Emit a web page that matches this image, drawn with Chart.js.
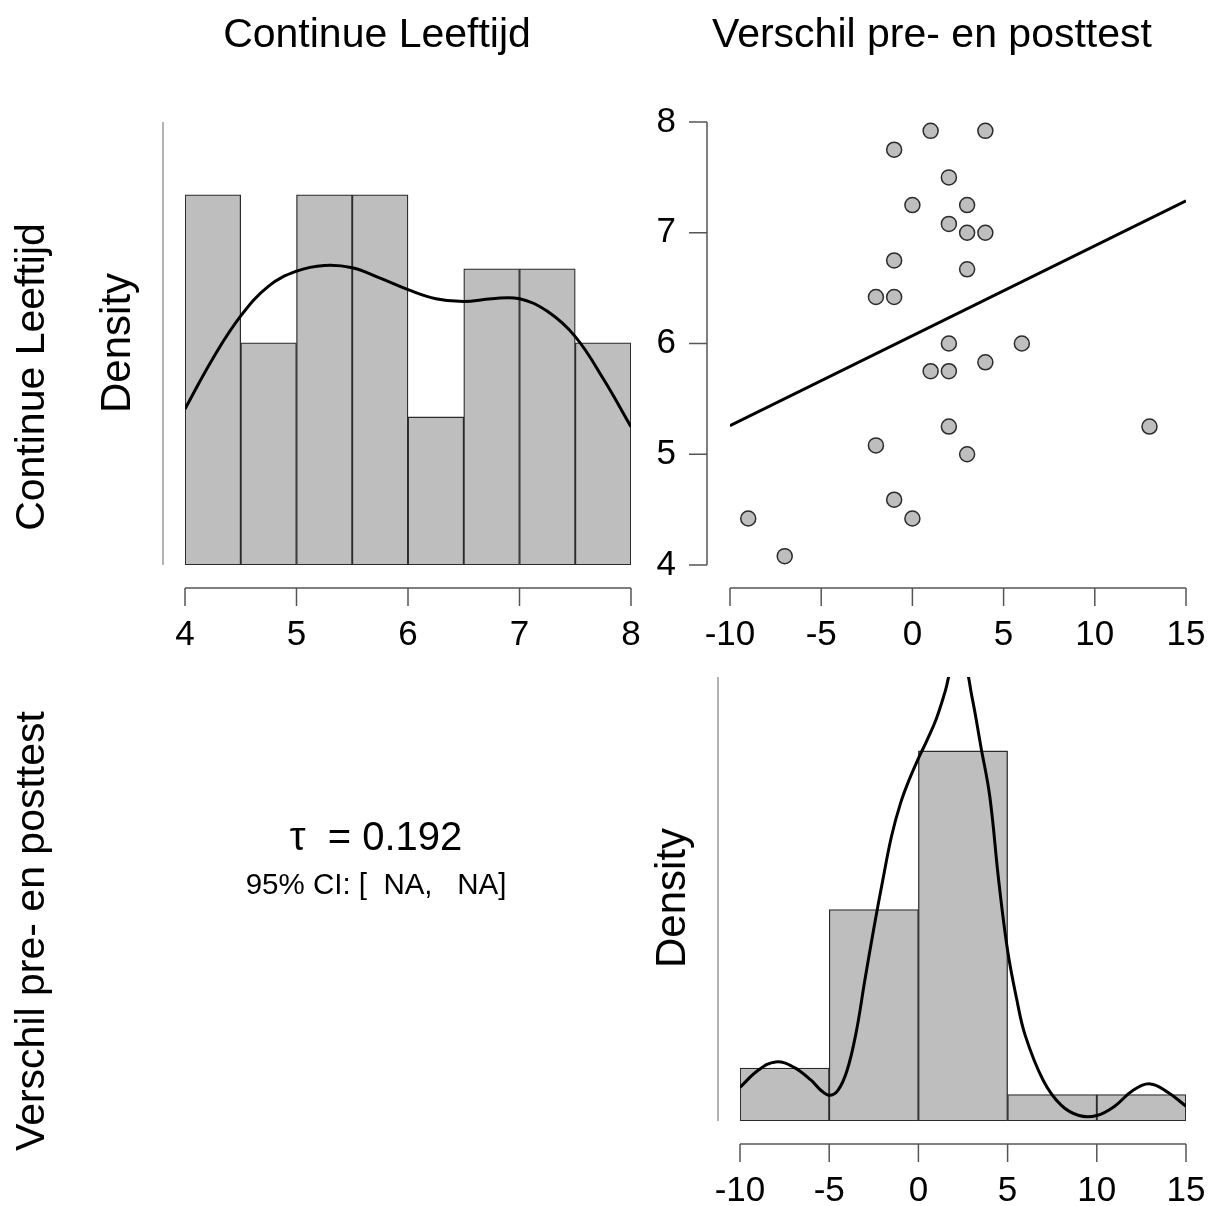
<!DOCTYPE html>
<html>
<head>
<meta charset="utf-8">
<title>Correlatieplot</title>
<script src="https://cdn.jsdelivr.net/npm/chart.js"></script>
<style>
  body { margin: 0; background: #fff; }
  #wrap { position: relative; width: 1212px; height: 1206px; overflow: hidden;
          font-family: "Liberation Sans", Arial, sans-serif; color: #000; background: #fff; }
  canvas { position: absolute; left: 0; top: 0; }
  .lbl { position: absolute; white-space: pre; line-height: 1; transform: translate(-50%, -50%); }
  .rot { transform: translate(-50%, -50%) rotate(-90deg); }
</style>
</head>
<body>
<div id="wrap">
  <canvas id="ageHist" width="1212" height="1206"></canvas>
  <canvas id="scatter" width="1212" height="1206"></canvas>
  <canvas id="diffHist" width="1212" height="1206"></canvas>

  <div class="lbl" style="left:377px;top:33px;font-size:41px">Continue Leeftijd</div>
  <div class="lbl" style="left:932px;top:33px;font-size:41px">Verschil pre- en posttest</div>
  <div class="lbl rot" style="left:30px;top:377px;font-size:41px">Continue Leeftijd</div>
  <div class="lbl rot" style="left:30px;top:931px;font-size:41px">Verschil pre- en posttest</div>
  <div class="lbl rot" style="left:116px;top:343px;font-size:42px">Density</div>
  <div class="lbl rot" style="left:671px;top:898px;font-size:42px">Density</div>
  <div class="lbl" id="tauLine" style="left:376px;top:836px;font-size:40px"></div>
  <div class="lbl" id="ciLine" style="left:376px;top:884px;font-size:29.5px"></div>
</div>
<script>
// Continue Leeftijd histogram (bin edges + counts), 31 cases
const ageBinEdges = [4, 4.5, 5, 5.5, 6, 6.5, 7, 7.5, 8];
const ageCounts = [5, 3, 5, 5, 2, 4, 4, 3];
// kernel density of age
const ageDensX = [4, 4.25, 4.5, 4.75, 5, 5.25, 5.5, 5.75, 6, 6.25, 6.5, 6.75, 7, 7.25, 7.5, 7.75, 8];
const ageDensY = [0.136, 0.180, 0.217, 0.243, 0.256, 0.261, 0.259, 0.250, 0.240, 0.232, 0.2295, 0.232, 0.2320, 0.221, 0.199, 0.1625, 0.1205];
const ageTicks = [4, 5, 6, 7, 8];
const ageDensMax = 0.386;

// Verschil pre- en posttest histogram, 26 cases
const diffBinEdges = [-10, -5, 0, 5, 10, 15];
const diffCounts = [2, 8, 14, 1, 1];
const diffDensX = [-10, -9, -8, -7, -6, -5.5, -5, -4.5, -4, -3.5, -3, -2.5, -2, -1.5, -1, -0.5, 0, 0.5, 1, 1.5, 2, 2.5, 3, 3.5, 4, 4.5, 5, 5.5, 6, 7, 8, 9, 10, 11, 12, 13, 14, 15];
const diffDensY = [0.0098, 0.0147, 0.0172, 0.0157, 0.0118, 0.0091, 0.0075, 0.0090, 0.0147, 0.0255, 0.0410, 0.0560, 0.0700, 0.0830, 0.0925, 0.0995, 0.1055, 0.1110, 0.1170, 0.1250, 0.1340, 0.1345, 0.1235, 0.1090, 0.0945, 0.0700, 0.0496, 0.0357, 0.0247, 0.0118, 0.0046, 0.0016, 0.0016, 0.0043, 0.0088, 0.0108, 0.0083, 0.0043];
const diffTicks = [-10, -5, 0, 5, 10, 15];
const diffDensMax = 0.1292;

// paired cases for the scatter plot
const diffValues = [1, 4, -1, 2, 0, 3, 2, 3, 4, -1, 3, -2, -1, 2, 6, 4, 1, 2, 2, 13, -2, 3, -1, -9, 0, -7];
const ageValues = [7.92, 7.92, 7.75, 7.5, 7.25, 7.25, 7.08, 7.0, 7.0, 6.75, 6.67, 6.42, 6.42, 6.0, 6.0, 5.83, 5.75, 5.75, 5.25, 5.25, 5.08, 5.0, 4.59, 4.42, 4.42, 4.08];

const tauValue = '0.192';
const ciLower = 'NA';
const ciUpper = 'NA';

const FONT = '"Liberation Sans", Arial, sans-serif';
const BAR_FILL = '#bebebe';
const EDGE = '#2b2b2b';

document.getElementById('tauLine').textContent = '\u03C4  = ' + tauValue;
document.getElementById('ciLine').textContent = '95% CI: [  ' + ciLower + ',   ' + ciUpper + ']';

// R-style axes: detached axis lines with outward ticks
const rAxes = {
  id: 'rAxes',
  afterDraw(chart, args, opts) {
    const ctx = chart.ctx;
    const area = chart.chartArea;
    const xs = chart.scales.x, ys = chart.scales.y;
    ctx.save();
    ctx.font = '35px ' + FONT;
    ctx.fillStyle = '#000';
    ctx.lineWidth = 1.5;

    if (opts.xTicks) {
      const y0 = area.bottom + 23;
      const first = xs.getPixelForValue(opts.xTicks[0]);
      const last = xs.getPixelForValue(opts.xTicks[opts.xTicks.length - 1]);
      ctx.strokeStyle = '#555';
      ctx.beginPath();
      ctx.moveTo(first, y0);
      ctx.lineTo(last, y0);
      opts.xTicks.forEach(v => {
        const p = xs.getPixelForValue(v);
        ctx.moveTo(p, y0);
        ctx.lineTo(p, y0 + 18);
      });
      ctx.stroke();
      ctx.textAlign = 'center';
      ctx.textBaseline = 'middle';
      opts.xTicks.forEach(v => ctx.fillText(String(v), xs.getPixelForValue(v), y0 + 47));
    }

    if (opts.yTicks) {
      const x0 = area.left - 23;
      const first = ys.getPixelForValue(opts.yTicks[0]);
      const last = ys.getPixelForValue(opts.yTicks[opts.yTicks.length - 1]);
      ctx.strokeStyle = '#555';
      ctx.beginPath();
      ctx.moveTo(x0, first);
      ctx.lineTo(x0, last);
      opts.yTicks.forEach(v => {
        const p = ys.getPixelForValue(v);
        ctx.moveTo(x0, p);
        ctx.lineTo(x0 - 18, p);
      });
      ctx.stroke();
      ctx.textAlign = 'right';
      ctx.textBaseline = 'middle';
      opts.yTicks.forEach(v => ctx.fillText(String(v), x0 - 31, ys.getPixelForValue(v)));
    }

    if (opts.densityLine) {
      // plain grey line for the unlabelled density axis
      const x0 = area.left - 22;
      ctx.strokeStyle = '#9a9a9a';
      ctx.beginPath();
      ctx.moveTo(x0, ys.getPixelForValue(ys.max));
      ctx.lineTo(x0, ys.getPixelForValue(0));
      ctx.stroke();
    }
    ctx.restore();
  }
};

function histBars(edges, counts) {
  const n = counts.reduce((a, b) => a + b, 0);
  return counts.map((c, i) => {
    const w = edges[i + 1] - edges[i];
    return { x: (edges[i] + edges[i + 1]) / 2, y: c / (n * w) };
  });
}

function histChart(id, edges, counts, densX, densY, ticks, yMax, area) {
  return new Chart(document.getElementById(id), {
    type: 'bar',
    data: {
      datasets: [
        {
          type: 'line',
          data: densX.map((x, i) => ({ x: x, y: densY[i] })),
          borderColor: '#000',
          borderWidth: 3,
          pointRadius: 0,
          fill: false,
          tension: 0.4,
          order: 0
        },
        {
          type: 'bar',
          data: histBars(edges, counts),
          backgroundColor: BAR_FILL,
          borderColor: EDGE,
          borderWidth: 1.3,
          borderSkipped: false,
          barPercentage: 1,
          categoryPercentage: 1,
          order: 1
        }
      ]
    },
    options: {
      responsive: false,
      animation: false,
      layout: { padding: area },
      scales: {
        x: { type: 'linear', min: edges[0], max: edges[edges.length - 1], offset: false, display: false },
        y: { type: 'linear', min: 0, max: yMax, display: false }
      },
      plugins: {
        legend: { display: false },
        tooltip: { enabled: false },
        rAxes: { xTicks: ticks, densityLine: true }
      }
    },
    plugins: [rAxes]
  });
}

histChart('ageHist', ageBinEdges, ageCounts, ageDensX, ageDensY, ageTicks, ageDensMax,
  { left: 185, top: 122, right: 1212 - 631, bottom: 1206 - 565 });

histChart('diffHist', diffBinEdges, diffCounts, diffDensX, diffDensY, diffTicks, diffDensMax,
  { left: 740, top: 677, right: 1212 - 1186, bottom: 1206 - 1121 });

// least squares line of age on difference
const n = diffValues.length;
const mx = diffValues.reduce((a, b) => a + b, 0) / n;
const my = ageValues.reduce((a, b) => a + b, 0) / n;
let sxy = 0, sxx = 0;
diffValues.forEach((x, i) => { sxy += (x - mx) * (ageValues[i] - my); sxx += (x - mx) * (x - mx); });
const slope = sxy / sxx;
const intercept = my - slope * mx;
const xLo = diffTicks[0], xHi = diffTicks[diffTicks.length - 1];

new Chart(document.getElementById('scatter'), {
  type: 'scatter',
  data: {
    datasets: [
      {
        type: 'scatter',
        data: diffValues.map((x, i) => ({ x: x, y: ageValues[i] })),
        backgroundColor: BAR_FILL,
        borderColor: EDGE,
        borderWidth: 1.5,
        pointRadius: 7.5,
        order: 0
      },
      {
        type: 'line',
        data: [{ x: xLo, y: intercept + slope * xLo }, { x: xHi, y: intercept + slope * xHi }],
        borderColor: '#000',
        borderWidth: 3,
        pointRadius: 0,
        fill: false,
        order: 1
      }
    ]
  },
  options: {
    responsive: false,
    animation: false,
    layout: { padding: { left: 730, top: 122, right: 1212 - 1186, bottom: 1206 - 565 } },
    scales: {
      x: { type: 'linear', min: -10, max: 15, display: false },
      y: { type: 'linear', min: 4, max: 8, display: false }
    },
    plugins: {
      legend: { display: false },
      tooltip: { enabled: false },
      rAxes: { xTicks: diffTicks, yTicks: ageTicks }
    }
  },
  plugins: [rAxes]
});
</script>
</body>
</html>
